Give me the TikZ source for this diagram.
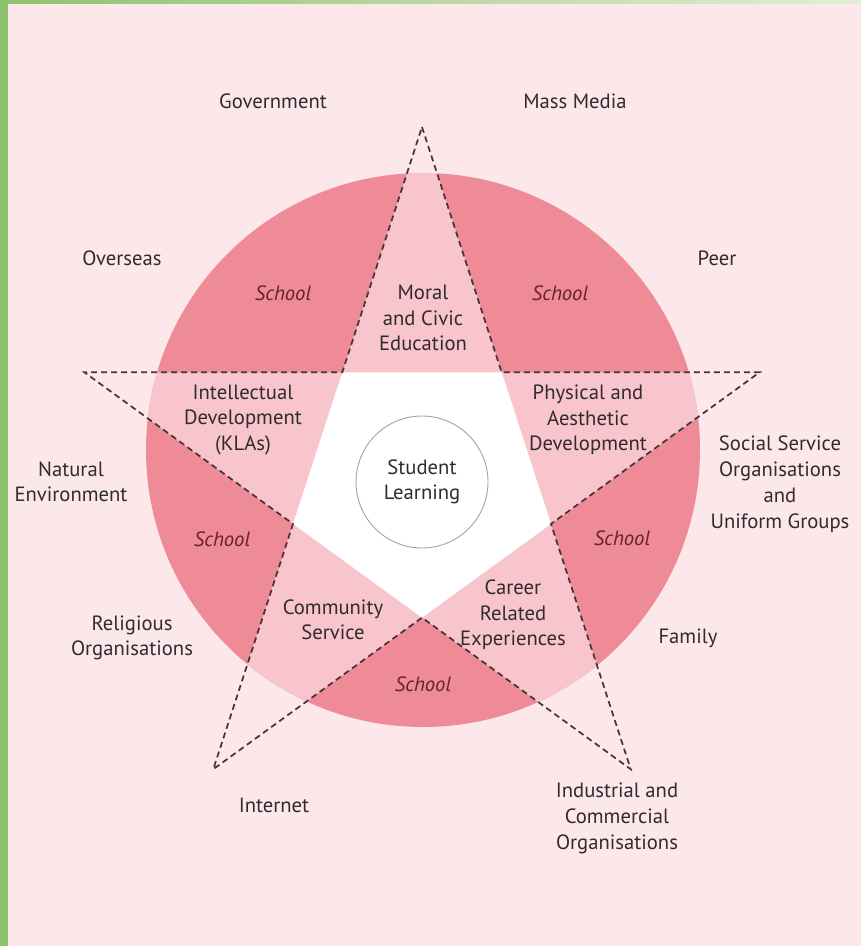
\documentclass[tikz,border=0pt]{standalone}
\usepackage{fontspec}
\setmainfont{PT Sans}
\usepackage{tikz}

\definecolor{bgpink}{RGB}{252,232,235}
\definecolor{schoolpink}{RGB}{239,139,151}
\definecolor{starpink}{RGB}{247,197,203}
\definecolor{leafgreen}{RGB}{143,194,110}
\definecolor{palegreen}{RGB}{226,238,214}
\definecolor{labelgray}{RGB}{48,43,46}
\definecolor{schoolred}{RGB}{100,34,48}
\definecolor{dashgray}{RGB}{70,52,58}

\begin{document}
\begin{tikzpicture}[
						x=0.75pt, y=-0.75pt,
						txt/.style = {align=center, text=labelgray, font=\fontsize{15.5}{19}\selectfont, inner sep=0pt},
						school/.style = {txt, text=schoolred, font=\fontsize{15.5}{19}\selectfont\itshape},
						starline/.style = {draw=dashgray, line width=1.3pt, dash pattern=on 4.5pt off 3pt},
						hub/.style = {draw=schoolred!45, fill=white, circle, line width=0.7pt, minimum size=99pt, inner sep=0pt}
					]
					\useasboundingbox (0,0) rectangle (861,946);
					\fill[bgpink] (0,0) rectangle (861,946);
					\fill[leafgreen] (0,0) rectangle (8,946);
					\shade[left color=leafgreen, right color=palegreen] (0,0) rectangle (861,3);
					% star points and inner corners
					\coordinate (tp) at (422,127);
					\coordinate (rp) at (759.6,372.3);
					\coordinate (brp) at (630.7,769.2);
					\coordinate (blp) at (213.3,769.2);
					\coordinate (lp) at (84.4,372.3);
					\coordinate (itr) at (501.7,372.3);
					\coordinate (ir) at (551,523.9);
					\coordinate (ib) at (422,617.6);
					\coordinate (il) at (293,523.9);
					\coordinate (itl) at (342.3,372.3);
					\fill[schoolpink] (423,450) circle[radius=207.75pt];
					\begin{scope}
						\clip (423,450) circle[radius=207.75pt];
						\fill[starpink] (tp) -- (itr) -- (rp) -- (ir) -- (brp) -- (ib) -- (blp) -- (il) -- (lp) -- (itl) -- cycle;
					\end{scope}
					\fill[white] (itl) -- (itr) -- (ir) -- (ib) -- (il) -- cycle;
					\draw[starline] (tp) -- (itr) -- (rp) -- (ir) -- (brp) -- (ib) -- (blp) -- (il) -- (lp) -- (itl) -- cycle;
					\node[hub] (hub) at (422,482) {};
					\node[txt] (learn) at (hub) {Student\\Learning};
					% the five areas
					\node[txt] (moral) at (423,318) {Moral\\and Civic\\Education};
					\node[txt] (intel) at (243,420) {Intellectual\\Development\\(KLAs)};
					\node[txt] (phys) at (588,420) {Physical and\\Aesthetic\\Development};
					\node[txt] (comm) at (333,620) {Community\\Service};
					\node[txt] (career) at (513,615) {Career\\Related\\Experiences};
					% school
					\node[school] (s1) at (283,293) {School};
					\node[school] (s2) at (560,293) {School};
					\node[school] (s3) at (222,539) {School};
					\node[school] (s4) at (622,538) {School};
					\node[school] (s5) at (423,684) {School};
					% outside
					\node[txt] (gov) at (273,101) {Government};
					\node[txt] (media) at (575,101) {Mass Media};
					\node[txt] (over) at (122,258) {Overseas};
					\node[txt] (peer) at (717,258) {Peer};
					\node[txt] (nature) at (71,482) {Natural\\Environment};
					\node[txt, font=\fontsize{15.5}{19.5}\selectfont] (social) at (780,484) {Social Service\\Organisations\\and\\Uniform Groups};
					\node[txt] (relig) at (132,638) {Religious\\Organisations};
					\node[txt] (family) at (688,638) {Family};
					\node[txt] (net) at (274,805) {Internet};
					\node[txt, font=\fontsize{15.5}{19.5}\selectfont] (indus) at (617,818) {Industrial and\\Commercial\\Organisations};
				\end{tikzpicture}
\end{document}
